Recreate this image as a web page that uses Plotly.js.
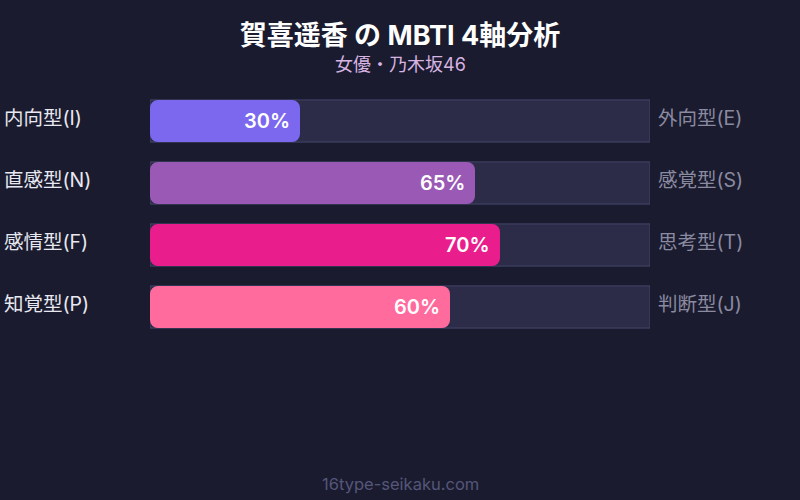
<!DOCTYPE html>
<html><head><meta charset="utf-8">
<script src="https://cdn.plot.ly/plotly-3.0.1.min.js"></script>
<style>html,body{margin:0;padding:0;background:#1a1b2e;}#chart{width:800px;height:500px;}</style>
</head><body><div id="chart"></div>
<script>
const leftLabels = ["内向型(I)", "直感型(N)", "感情型(F)", "知覚型(P)"];
const rightLabels = ["外向型(E)", "感覚型(S)", "思考型(T)", "判断型(J)"];
const values = [30, 65, 70, 60];
const barColors = ["#7b68ee", "#9b59b6", "#e91e8c", "#ff6b9d"];
const trackMax = [100, 100, 100, 100];
const titleText = "賀喜遥香 の MBTI 4軸分析";
const subtitleText = "女優・乃木坂46";
const footerText = "16type-seikaku.com";

const FONT = "Inter, Noto Sans CJK JP, sans-serif";
const cats = leftLabels;

const track = {
  type: "bar", orientation: "h", y: cats, x: trackMax, xaxis: "x", yaxis: "y",
  marker: {color: "#2c2b48", line: {color: "#45456a", width: 1}},
  width: 0.68, hoverinfo: "skip", showlegend: false
};
// filled bar drawn as two overlapping halves so both ends get rounded corners
const fillRight = {
  type: "bar", orientation: "h", y: cats, xaxis: "x2", yaxis: "y",
  base: values.map(v => v * 0.4), x: values.map(v => v * 0.6),
  marker: {color: barColors, cornerradius: 8, line: {width: 0}},
  width: 0.68, showlegend: false
};
const fillLeft = {
  type: "bar", orientation: "h", y: cats, xaxis: "x3", yaxis: "y",
  base: values.map(v => v * 0.6), x: values.map(v => -v * 0.6),
  marker: {color: barColors, cornerradius: 8, line: {width: 0}},
  width: 0.68, showlegend: false
};

const annotations = [];
cats.forEach((c, i) => {
  annotations.push({xref: "paper", yref: "y", x: -0.296, y: c, xanchor: "left", yanchor: "middle", yshift: 3,
    text: leftLabels[i], showarrow: false, font: {family: FONT, size: 19.5, color: "#e8e8f0"}});
  annotations.push({xref: "paper", yref: "y", x: 1.012, y: c, xanchor: "left", yanchor: "middle", yshift: 3,
    text: rightLabels[i], showarrow: false, font: {family: FONT, size: 19.5, color: "#8a8aa0"}});
  annotations.push({xref: "x", yref: "y", x: values[i], y: c, xanchor: "right", yanchor: "middle", xshift: -8,
    text: values[i] + "%", showarrow: false, font: {family: FONT, size: 20, color: "#ffffff", weight: 600}});
});
annotations.push({xref: "paper", yref: "paper", x: 0.5, y: 0, xanchor: "center", yanchor: "middle",
  yshift: -146, text: footerText, showarrow: false, font: {family: FONT, size: 16.5, color: "#55567a"}});
annotations.push({xref: "paper", yref: "paper", x: 0.5, y: 1, xanchor: "center", yanchor: "middle",
  yshift: 26, text: subtitleText, showarrow: false, font: {family: FONT, size: 18, color: "#d8b4e2"}});

const layout = {
  width: 800, height: 500,
  paper_bgcolor: "#1a1b2e", plot_bgcolor: "#1a1b2e",
  margin: {l: 150, r: 150, t: 90, b: 162},
  title: {text: "<b>" + titleText + "</b>", x: 0.5, xanchor: "center", y: 0.928, yanchor: "middle",
    font: {family: FONT, size: 27, color: "#ffffff"}},
  barmode: "group",
  xaxis: {range: [0, 100], visible: false, fixedrange: true},
  xaxis2: {range: [0, 100], visible: false, fixedrange: true, overlaying: "x"},
  xaxis3: {range: [0, 100], visible: false, fixedrange: true, overlaying: "x"},
  yaxis: {autorange: "reversed", visible: false, fixedrange: true},
  annotations: annotations
};
Plotly.newPlot("chart", [track, fillRight, fillLeft], layout, {displayModeBar: false, staticPlot: true});
</script></body></html>
